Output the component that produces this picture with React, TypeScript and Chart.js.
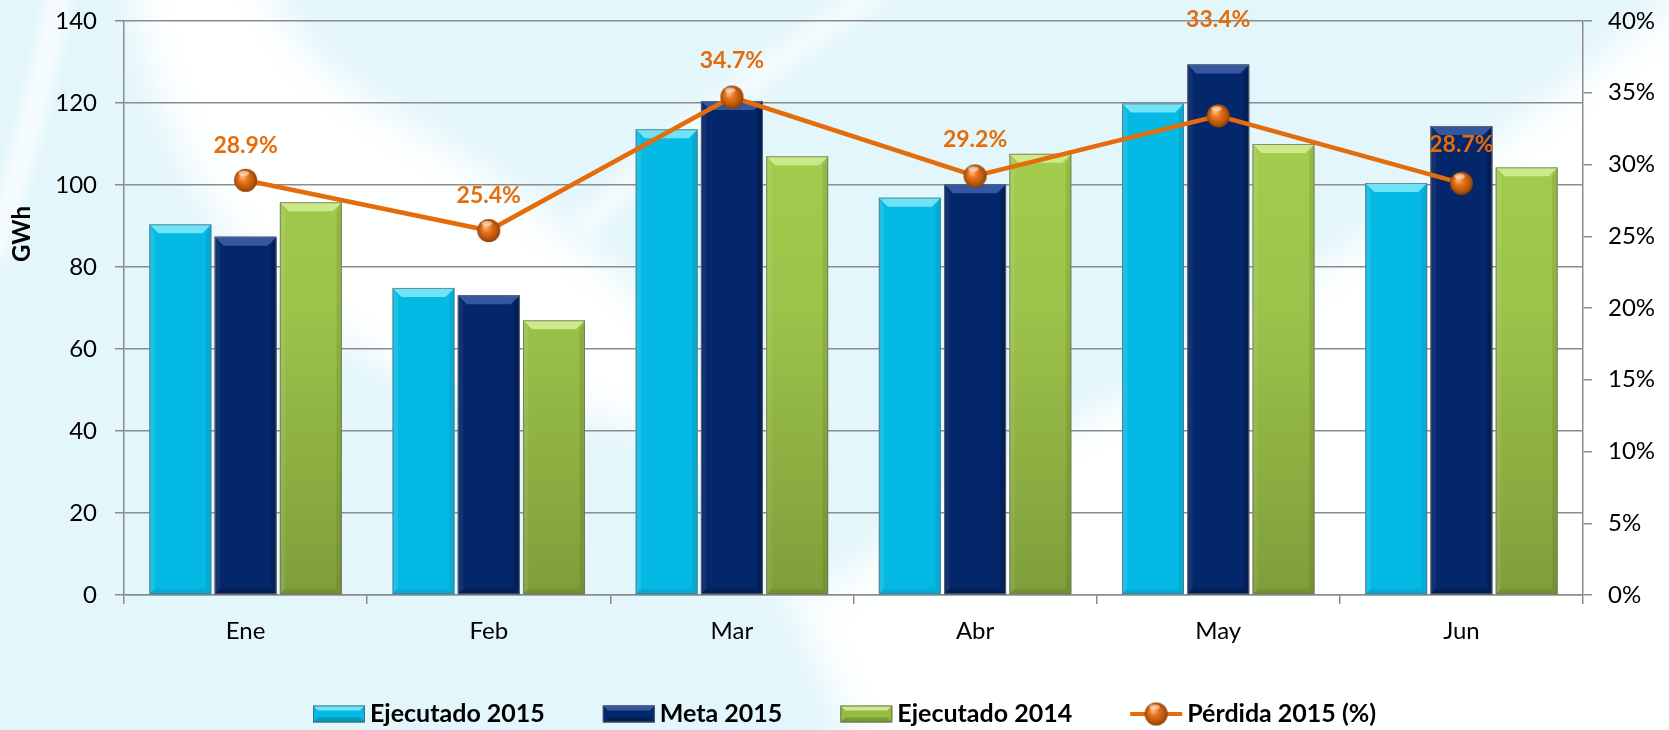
import React, { useEffect, useRef } from "react";
import { Chart, registerables } from "chart.js";

Chart.register(...registerables);

const categories = ["Ene", "Feb", "Mar", "Abr", "May", "Jun"];
const ejecutado2015 = [90.4, 74.9, 113.6, 96.9, 119.9, 100.5];
const meta2015 = [87.4, 73.1, 120.5, 100.2, 129.4, 114.4];
const ejecutado2014 = [95.8, 67.0, 107.0, 107.6, 110.0, 104.3];
const perdida2015 = [28.9, 25.4, 34.7, 29.2, 33.4, 28.7];
const seriesNames = ["Ejecutado 2015", "Meta 2015", "Ejecutado 2014", "Pérdida 2015 (%)"];
const gwhMax = 140;
const gwhStep = 20;
const pctMax = 40;
const pctStep = 5;

const FONT = "Lato, 'Open Sans', sans-serif";
const ORANGE = "#E46C0A";
const GRID = "#8c8c8c";

function makeBall(r: number) {
  const c = document.createElement("canvas");
  const s = Math.ceil(r * 2 + 4);
  c.width = s;
  c.height = s;
  const g = c.getContext("2d")!;
  const cx = s / 2, cy = s / 2;
  const grad = g.createRadialGradient(cx - r * 0.3, cy - r * 0.35, r * 0.1, cx, cy, r);
  grad.addColorStop(0, "#FBB27A");
  grad.addColorStop(0.35, "#E8731A");
  grad.addColorStop(0.8, "#B4540A");
  grad.addColorStop(1, "#8A3E06");
  g.fillStyle = grad;
  g.beginPath();
  g.arc(cx, cy, r, 0, Math.PI * 2);
  g.fill();
  g.fillStyle = "rgba(255,255,255,0.55)";
  g.beginPath();
  g.ellipse(cx - r * 0.15, cy - r * 0.6, r * 0.45, r * 0.22, 0, 0, Math.PI * 2);
  g.fill();
  return c;
}

const bevelStyles = [
  { top: "#6FE3F8", light: "rgba(255,255,255,0.10)", dark: "rgba(0,40,80,0.10)" },
  { top: "#3457A0", light: "rgba(255,255,255,0.06)", dark: "rgba(0,0,0,0.18)" },
  { top: "#CDEA8A", light: "rgba(255,255,255,0.08)", dark: "rgba(40,60,0,0.12)" },
];

const backgroundPlugin = {
  id: "bgSwoosh",
  beforeDraw(chart: any) {
    const { ctx, width, height } = chart;
    ctx.save();
    ctx.fillStyle = "#E3F6FB";
    ctx.fillRect(0, 0, width, height);
    ctx.filter = "blur(18px)";
    ctx.fillStyle = "rgba(255,255,255,0.95)";
    ctx.beginPath();
    ctx.moveTo(125, -40);
    ctx.bezierCurveTo(170, 250, 330, 390, 560, 410);
    ctx.bezierCurveTo(720, 430, 780, 560, 860, 760);
    ctx.lineTo(1700, 760);
    ctx.lineTo(1700, -20);
    ctx.bezierCurveTo(1450, 180, 1200, 360, 1080, 420);
    ctx.bezierCurveTo(960, 480, 860, 560, 820, 600);
    ctx.bezierCurveTo(760, 400, 640, 260, 420, 130);
    ctx.bezierCurveTo(330, 80, 280, 30, 260, -40);
    ctx.closePath();
    ctx.fill();
    ctx.filter = "blur(8px)";
    ctx.strokeStyle = "rgba(255,255,255,0.8)";
    ctx.lineWidth = 22;
    ctx.beginPath();
    ctx.moveTo(60, -10);
    ctx.quadraticCurveTo(30, 150, -10, 260);
    ctx.stroke();
    ctx.strokeStyle = "rgba(255,255,255,0.55)";
    ctx.lineWidth = 30;
    ctx.beginPath();
    ctx.moveTo(580, 230);
    ctx.quadraticCurveTo(700, 110, 880, -10);
    ctx.stroke();
    ctx.restore();
  },
};

const bevelPlugin = {
  id: "bevel",
  afterDatasetDraw(chart: any, args: any) {
    const meta = args.meta;
    if (meta.type !== "bar") return;
    const st = bevelStyles[args.index] || bevelStyles[0];
    const ctx = chart.ctx;
    ctx.save();
    meta.data.forEach((el: any) => {
      const p = el.getProps(["x", "y", "base", "width"], true);
      const l = p.x - p.width / 2, r = p.x + p.width / 2, t = p.y, b = p.base;
      const bv = Math.min(9, (b - t) / 2);
      const poly = (pts: number[][], fill: string) => {
        ctx.fillStyle = fill;
        ctx.beginPath();
        ctx.moveTo(pts[0][0], pts[0][1]);
        for (let i = 1; i < pts.length; i++) ctx.lineTo(pts[i][0], pts[i][1]);
        ctx.closePath();
        ctx.fill();
      };
      poly([[l, t], [r, t], [r - bv, t + bv], [l + bv, t + bv]], st.top);
      poly([[l, t], [l + bv * 0.6, t + bv], [l + bv * 0.6, b - bv * 0.6], [l, b]], st.light);
      poly([[r, t], [r, b], [r - bv * 0.6, b - bv * 0.6], [r - bv * 0.6, t + bv]], st.dark);
      poly([[l, b], [r, b], [r - bv * 0.6, b - bv * 0.6], [l + bv * 0.6, b - bv * 0.6]], st.dark);
      ctx.strokeStyle = "rgba(110,110,110,0.75)";
      ctx.lineWidth = 1;
      ctx.strokeRect(l + 0.5, t + 0.5, r - l - 1, b - t - 1);
    });
    ctx.restore();
  },
};

const labelPlugin = {
  id: "pctLabels",
  afterDatasetsDraw(chart: any, _args: any, opts: any) {
    const idx = chart.data.datasets.findIndex((d: any) => d.type === "line");
    if (idx < 0) return;
    const meta = chart.getDatasetMeta(idx);
    const ctx = chart.ctx;
    ctx.save();
    ctx.font = `bold 23px ${FONT}`;
    ctx.fillStyle = ORANGE;
    ctx.textAlign = "center";
    ctx.textBaseline = "middle";
    meta.data.forEach((pt: any, i: number) => {
      const lift = (opts.lift && opts.lift[i]) || 36;
      const v = chart.data.datasets[idx].data[i];
      ctx.fillText(v.toFixed(1) + "%", pt.x, pt.y - lift);
    });
    ctx.restore();
  },
};

const axisTitlePlugin = {
  id: "gwhTitle",
  afterDraw(chart: any) {
    const ctx = chart.ctx;
    ctx.save();
    ctx.translate(22, 234);
    ctx.rotate(-Math.PI / 2);
    ctx.font = `bold 24px ${FONT}`;
    ctx.fillStyle = "#000";
    ctx.textAlign = "center";
    ctx.textBaseline = "middle";
    ctx.fillText("GWh", 0, 0);
    ctx.restore();
  },
};

function makeLegendPlugin(ball: HTMLCanvasElement) {
  return {
    id: "customLegend",
    afterDraw(chart: any) {
      const ctx = chart.ctx;
      const y = 714;
      ctx.save();
      ctx.font = `bold 25px ${FONT}`;
      ctx.textBaseline = "middle";
      ctx.textAlign = "left";
      let x = 313;
      const bw = 52, bh = 17;
      chart.data.datasets.forEach((ds: any, i: number) => {
        if (ds.type === "line") {
          ctx.strokeStyle = ORANGE;
          ctx.lineWidth = 4;
          ctx.beginPath();
          ctx.moveTo(x, y);
          ctx.lineTo(x + bw, y);
          ctx.stroke();
          ctx.drawImage(ball, x + bw / 2 - ball.width / 2, y - ball.height / 2);
        } else {
          const st = bevelStyles[i] || bevelStyles[0];
          const t = y - bh / 2, l = x, r = x + bw, b = y + bh / 2, bv = 5;
          ctx.fillStyle = ds.legendColor;
          ctx.fillRect(l, t, bw, bh);
          ctx.fillStyle = st.top;
          ctx.beginPath();
          ctx.moveTo(l, t); ctx.lineTo(r, t); ctx.lineTo(r - bv, t + bv); ctx.lineTo(l + bv, t + bv);
          ctx.closePath(); ctx.fill();
          ctx.fillStyle = "rgba(0,0,0,0.18)";
          ctx.beginPath();
          ctx.moveTo(l, b); ctx.lineTo(r, b); ctx.lineTo(r - bv, b - bv); ctx.lineTo(l + bv, b - bv);
          ctx.closePath(); ctx.fill();
          ctx.strokeStyle = "rgba(90,90,90,0.8)";
          ctx.lineWidth = 1;
          ctx.strokeRect(l + 0.5, t + 0.5, bw - 1, bh - 1);
        }
        ctx.fillStyle = "#000";
        ctx.fillText(ds.label, x + bw + 5, y);
        x += bw + 5 + ctx.measureText(ds.label).width + 58;
      });
      ctx.restore();
    },
  };
}

export default function App() {
  const ref = useRef<HTMLCanvasElement | null>(null);

  useEffect(() => {
    document.body.style.margin = "0";
    const canvas = ref.current!;
    const ctx2 = canvas.getContext("2d")!;
    const greenGrad = ctx2.createLinearGradient(0, 21, 0, 595);
    greenGrad.addColorStop(0, "#A9D352");
    greenGrad.addColorStop(0.5, "#9CC34A");
    greenGrad.addColorStop(1, "#7F9E3A");
    const ball = makeBall(11.5);
    const tickFont = { family: FONT, size: 24 };
    const barCommon = { type: "bar", yAxisID: "y", order: 1, categoryPercentage: 0.805, barPercentage: 0.95 };

    const chart = new Chart(canvas, {
      data: {
        labels: categories,
        datasets: [
          { ...barCommon, label: seriesNames[0], data: ejecutado2015, backgroundColor: "#04BAE5", legendColor: "#04BAE5" } as any,
          { ...barCommon, label: seriesNames[1], data: meta2015, backgroundColor: "#04266A", legendColor: "#04266A" } as any,
          { ...barCommon, label: seriesNames[2], data: ejecutado2014, backgroundColor: greenGrad, legendColor: "#95BC45" } as any,
          {
            type: "line",
            label: seriesNames[3],
            data: perdida2015,
            yAxisID: "y1",
            borderColor: ORANGE,
            borderWidth: 4.5,
            pointStyle: ball as any,
            pointRadius: 11.5,
            order: 0,
          } as any,
        ],
      },
      options: {
        responsive: false,
        animation: false,
        layout: { padding: { top: 21, left: 0, right: 0, bottom: 0 } },
        plugins: {
          legend: { display: false },
          tooltip: { enabled: false },
          pctLabels: { lift: [35, 35, 36, 36, 96, 39] },
        } as any,
        scales: {
          x: {
            offset: true,
            grid: { offset: true, drawOnChartArea: false, drawTicks: true, tickLength: 9, color: GRID, lineWidth: 1.5 },
            border: { color: GRID, width: 1.5 },
            ticks: { font: tickFont, color: "#000", padding: 13 },
            afterFit(s: any) { s.height = 135; s.paddingLeft = 0; s.paddingRight = 0; },
          },
          y: {
            position: "left",
            min: 0,
            max: gwhMax,
            ticks: { stepSize: gwhStep, font: tickFont, color: "#000", padding: 18 },
            grid: { color: GRID, lineWidth: 1.5, tickLength: 9 },
            border: { color: GRID, width: 1.5 },
            afterFit(s: any) { s.width = 124; s.paddingTop = 0; s.paddingBottom = 0; },
          },
          y1: {
            position: "right",
            min: 0,
            max: pctMax,
            ticks: { stepSize: pctStep, font: tickFont, color: "#000", padding: 16, callback: (v: any) => v + "%" },
            grid: { drawOnChartArea: false, color: GRID, lineWidth: 1.5, tickLength: 9 },
            border: { color: GRID, width: 1.5 },
            afterFit(s: any) { s.width = 86; s.paddingTop = 0; s.paddingBottom = 0; },
          },
        } as any,
      },
      plugins: [backgroundPlugin, bevelPlugin, labelPlugin, axisTitlePlugin, makeLegendPlugin(ball)],
    } as any);

    return () => chart.destroy();
  }, []);

  return (
    <div style={{ position: "absolute", left: 0, top: 0, width: 1669, height: 730 }}>
      <canvas ref={ref} width={1669} height={730} style={{ display: "block", width: 1669, height: 730 }} />
    </div>
  );
}
